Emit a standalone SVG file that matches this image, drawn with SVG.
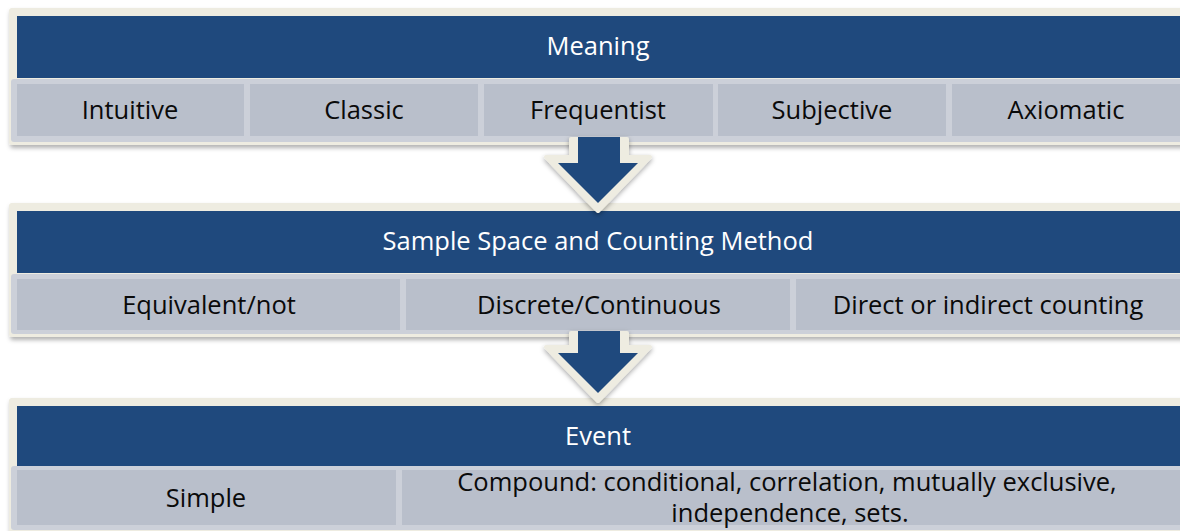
<svg xmlns="http://www.w3.org/2000/svg" width="1180" height="531" viewBox="0 0 1180 531">
<defs>
<filter id="psh" x="-5%" y="-20%" width="110%" height="140%">
<feDropShadow dx="1" dy="3" stdDeviation="2" flood-color="#000" flood-opacity="0.3"/>
</filter>
<filter id="ash" x="-30%" y="-30%" width="160%" height="160%">
<feDropShadow dx="0" dy="2" stdDeviation="2.5" flood-color="#000" flood-opacity="0.35"/>
</filter>
<style>
.cream{fill:#EEECE1}
.head{fill:#1F497D}
.band{fill:#CCD0D9}
.cell{fill:#B9BFCB}
.ht{font-family:"Open Sans","Liberation Sans",sans-serif;font-size:25.5px;fill:#FFFFFF;text-anchor:middle}
.ct{font-family:"Open Sans","Liberation Sans",sans-serif;font-size:25.5px;fill:#0A0A0A;text-anchor:middle}
.acr{fill:#EEECE1;stroke:#EEECE1;stroke-width:4;stroke-linejoin:round}
.abl{fill:#1F497D}
</style>
</defs>
<g id="panel-meaning">
<rect class="cream" x="9" y="8" width="1185" height="137" rx="3" filter="url(#psh)"/>
<rect class="head" x="17" y="16" width="1170" height="62"/>
<text class="ht" x="598" y="55">Meaning</text>
<rect class="band" x="11" y="79" width="1180" height="63" rx="3"/>
<rect class="cell" x="17" y="84" width="227" height="52"/>
<rect class="cell" x="250" y="84" width="228" height="52"/>
<rect class="cell" x="484" y="84" width="229" height="52"/>
<rect class="cell" x="718" y="84" width="228" height="52"/>
<rect class="cell" x="952" y="84" width="240" height="52"/>
<text class="ct" x="130" y="119">Intuitive</text>
<text class="ct" x="364" y="119">Classic</text>
<text class="ct" x="598" y="119">Frequentist</text>
<text class="ct" x="832" y="119">Subjective</text>
<text class="ct" x="1066" y="119">Axiomatic</text>
</g>
<g id="panel-sample-space">
<rect class="cream" x="9" y="203" width="1185" height="134" rx="3" filter="url(#psh)"/>
<rect class="head" x="17" y="211" width="1170" height="62"/>
<text class="ht" x="598" y="250">Sample Space and Counting Method</text>
<rect class="band" x="11" y="274" width="1180" height="60" rx="3"/>
<rect class="cell" x="17" y="279" width="383" height="51"/>
<rect class="cell" x="406" y="279" width="384" height="51"/>
<rect class="cell" x="796" y="279" width="396" height="51"/>
<text class="ct" x="209" y="314">Equivalent/not</text>
<text class="ct" x="599" y="314">Discrete/Continuous</text>
<text class="ct" x="988" y="314">Direct or indirect counting</text>
</g>
<g id="panel-event">
<rect class="cream" x="9" y="398" width="1185" height="150" rx="3" filter="url(#psh)"/>
<rect class="head" x="17" y="406" width="1170" height="60"/>
<text class="ht" x="598" y="445">Event</text>
<rect class="band" x="11" y="466" width="1180" height="64" rx="3"/>
<rect class="cell" x="17" y="470" width="379" height="55"/>
<rect class="cell" x="402" y="470" width="790" height="55"/>
<text class="ct" x="206" y="507">Simple</text>
<text class="ct" x="787" y="491">Compound: conditional, correlation, mutually exclusive,</text>
<text class="ct" x="790" y="522">independence, sets.</text>
</g>
<g id="connectors">
<g filter="url(#ash)">
<polygon class="acr" points="571,139 627,139 627,157 650,157 598,211 546,157 571,157"/>
</g>
<polygon class="abl" points="578,137 620,137 620,163 638,163 598,203 558,163 578,163"/>
<g filter="url(#ash)">
<polygon class="acr" points="571,333 627,333 627,347 650,347 598,401 546,347 571,347"/>
</g>
<polygon class="abl" points="578,331 620,331 620,353 638,353 598,393 558,353 578,353"/>
</g>
</svg>
